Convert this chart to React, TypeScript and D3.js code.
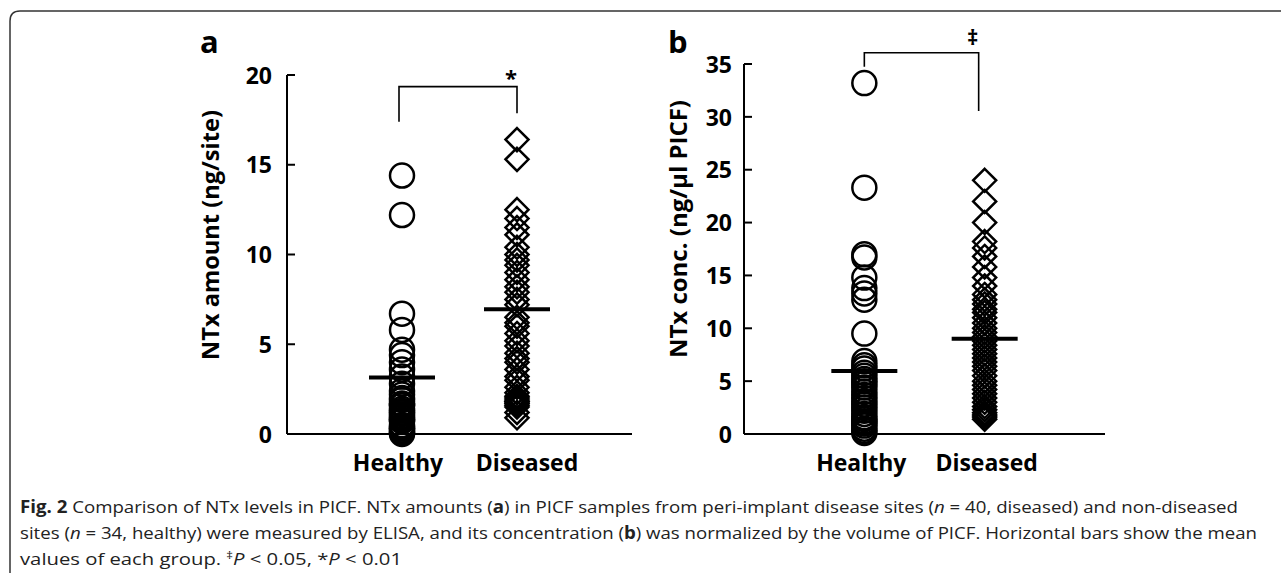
import React from "react";
import * as d3 from "d3";

// ---------- data ----------
const categories = ["Healthy", "Diseased"];

const amountHealthy = [14.4, 12.2, 6.7, 5.8, 4.7, 4.4, 4.0, 3.6, 3.2, 2.8, 2.4, 2.2, 2.0, 1.9, 1.7, 1.6, 1.6, 1.4, 1.3, 1.2, 1.1, 1.0, 0.9, 0.8, 0.8, 0.7, 0.5, 0.4, 0.3, 0.3, 0.2, 0.1, 0.1, 0.0];
const amountDiseased = [16.4, 15.3, 12.5, 12.0, 11.5, 11.1, 10.4, 10.0, 9.7, 9.4, 9.0, 8.6, 8.2, 7.9, 7.5, 7.2, 6.5, 6.2, 6.0, 5.6, 5.2, 4.9, 4.5, 4.2, 4.0, 3.6, 3.2, 3.0, 2.6, 2.3, 2.1, 2.0, 1.9, 1.8, 1.8, 1.7, 1.6, 1.5, 1.2, 0.9];
const amountMeans = [3.15, 6.95];
const amountTicks = [0, 5, 10, 15, 20];
const amountBracket = [19.35, 17.4, 17.87]; // top, left leg end, right leg end

const concHealthy = [33.2, 23.3, 17.0, 16.7, 14.8, 13.8, 13.3, 12.7, 9.5, 6.9, 6.5, 6.2, 5.8, 5.5, 5.2, 5.0, 4.7, 4.4, 4.0, 3.7, 3.4, 3.1, 2.8, 2.5, 2.2, 1.9, 1.6, 1.4, 1.2, 1.0, 0.8, 0.5, 0.3, 0.1];
const concDiseased = [24.0, 22.0, 20.0, 18.2, 17.6, 16.8, 15.8, 14.8, 14.0, 13.2, 12.7, 12.3, 11.8, 11.5, 11.0, 10.5, 10.0, 9.6, 9.2, 8.8, 8.4, 8.0, 7.6, 7.2, 6.8, 6.4, 6.0, 5.5, 5.0, 4.6, 4.2, 3.8, 3.4, 3.0, 2.6, 2.3, 2.0, 1.8, 1.6, 1.4];
const concMeans = [5.95, 9.0];
const concTicks = [0, 5, 10, 15, 20, 25, 30, 35];
const concBracket = [36.07, 34.75, 30.55];

const FONT = "'Open Sans', 'DejaVu Sans', sans-serif";

type PanelProps = {
  letter: string;
  yTitle: string;
  healthy: number[];
  diseased: number[];
  means: number[];
  ticks: number[];
  yMax: number;
  bracket: number[];
  sig: string;
  left: number;
  right: number;
  top: number;
  bottom: number;
  titleX: number;
  titleY: number;
  titleLen: number;
  tickLabelGap: number;
  bracketDx: [number, number];
  labelDx: [number, number];
  sigDx: number;
  sigY: number;
  letterX: number;
};

function Panel(p: PanelProps) {
  const x = d3.scaleLinear().domain([0, 3]).range([p.left, p.right]);
  const y = d3.scaleLinear().domain([0, p.yMax]).range([p.bottom, p.top]);
  const cx = [x(1), x(2)];
  const h = 11.5;
  const diamond = `M0,${-h}L${h},0L0,${h}L${-h},0Z`;
  const bx1 = cx[0] + p.bracketDx[0];
  const bx2 = cx[1] + p.bracketDx[1];
  return (
    <g>
      <text x={p.letterX} y={53} fontFamily={FONT} fontWeight={700} fontSize={31} fill="#000">
        {p.letter}
      </text>
      {/* axes */}
      <line x1={p.left} x2={p.left} y1={y(p.yMax)} y2={y(0)} stroke="#000" strokeWidth={2} />
      <line x1={p.left} x2={p.right} y1={y(0)} y2={y(0)} stroke="#000" strokeWidth={2} />
      {p.ticks.map((t) => (
        <g key={t}>
          <line x1={p.left} x2={p.left + 8} y1={y(t)} y2={y(t)} stroke="#000" strokeWidth={2} />
          <text
            x={p.left - p.tickLabelGap}
            y={y(t)}
            dy="0.38em"
            textAnchor="end"
            fontFamily={FONT}
            fontWeight={700}
            fontSize={23}
          >
            {t}
          </text>
        </g>
      ))}
      <text
        transform={`translate(${p.titleX},${p.titleY}) rotate(-90)`}
        x={-p.titleLen / 2}
        dy="0.36em"
        textLength={p.titleLen}
        lengthAdjust="spacingAndGlyphs"
        fontFamily={FONT}
        fontWeight={700}
        fontSize={23.5}
      >
        {p.yTitle}
      </text>
      {categories.map((c, i) => (
        <text
          key={c}
          x={cx[i] + p.labelDx[i]}
          y={471}
          textAnchor="middle"
          fontFamily={FONT}
          fontWeight={700}
          fontSize={23}
        >
          {c}
        </text>
      ))}
      {/* points */}
      {p.healthy.map((v, i) => (
        <circle key={"h" + i} cx={cx[0]} cy={y(v)} r={12} fill="none" stroke="#000" strokeWidth={2.5} />
      ))}
      {p.diseased.map((v, i) => (
        <path
          key={"d" + i}
          d={diamond}
          transform={`translate(${cx[1]},${y(v)})`}
          fill="none"
          stroke="#000"
          strokeWidth={2.5}
        />
      ))}
      {/* means */}
      {p.means.map((m, i) => (
        <line key={"m" + i} x1={cx[i] - 33} x2={cx[i] + 33} y1={y(m)} y2={y(m)} stroke="#000" strokeWidth={4} />
      ))}
      {/* bracket */}
      <path
        d={`M${bx1},${y(p.bracket[1])}V${y(p.bracket[0])}H${bx2}V${y(p.bracket[2])}`}
        fill="none"
        stroke="#000"
        strokeWidth={1.6}
      />
      <text
        x={bx2 + p.sigDx}
        y={p.sigY}
        textAnchor="middle"
        fontFamily={FONT}
        fontWeight={700}
        fontSize={22}
      >
        {p.sig}
      </text>
    </g>
  );
}

export default function App() {
  const capFont = "'Open Sans', 'Noto Sans', sans-serif";
  return (
    <svg width={1281} height={573} style={{ position: "absolute", left: 0, top: 0 }}>
      <rect width={1281} height={573} fill="#fff" />
      <path d="M10,573V21Q10,11 20,11H1281" fill="none" stroke="#333" strokeWidth={1.5} />
      <Panel
        letter="a"
        yTitle="NTx amount (ng/site)"
        healthy={amountHealthy}
        diseased={amountDiseased}
        means={amountMeans}
        ticks={amountTicks}
        yMax={20}
        bracket={amountBracket}
        sig="*"
        left={287}
        right={632}
        top={75}
        bottom={434}
        titleX={211}
        titleY={235}
        titleLen={250}
        tickLabelGap={15}
        bracketDx={[-3, 0]}
        labelDx={[-4, 10]}
        sigDx={-6}
        sigY={86}
        letterX={200}
      />
      <Panel
        letter="b"
        yTitle="NTx conc. (ng/μl PICF)"
        healthy={concHealthy}
        diseased={concDiseased}
        means={concMeans}
        ticks={concTicks}
        yMax={35}
        bracket={concBracket}
        sig="‡"
        left={744}
        right={1105}
        top={64}
        bottom={434}
        titleX={679}
        titleY={229}
        titleLen={258}
        tickLabelGap={12}
        bracketDx={[0, -6]}
        labelDx={[-3, 2]}
        sigDx={-6}
        sigY={45}
        letterX={668}
      />
      <g fontFamily={capFont} fontSize={17} fill="#222">
        <text x={20} y={513} textLength={1218} lengthAdjust="spacingAndGlyphs">
          <tspan fontWeight={700}>Fig. 2</tspan> Comparison of NTx levels in PICF. NTx amounts (
          <tspan fontWeight={700}>a</tspan>) in PICF samples from peri-implant disease sites (
          <tspan fontStyle="italic">n</tspan> = 40, diseased) and non-diseased
        </text>
        <text x={20} y={539} textLength={1237} lengthAdjust="spacingAndGlyphs">
          sites (<tspan fontStyle="italic">n</tspan> = 34, healthy) were measured by ELISA, and its concentration (
          <tspan fontWeight={700}>b</tspan>) was normalized by the volume of PICF. Horizontal bars show the mean
        </text>
        <text x={20} y={565} textLength={382} lengthAdjust="spacingAndGlyphs">
          values of each group. <tspan fontSize={11} dy={-6}>‡</tspan>
          <tspan fontStyle="italic" dy={6}>P</tspan> &lt; 0.05, *<tspan fontStyle="italic">P</tspan> &lt; 0.01
        </text>
      </g>
    </svg>
  );
}
